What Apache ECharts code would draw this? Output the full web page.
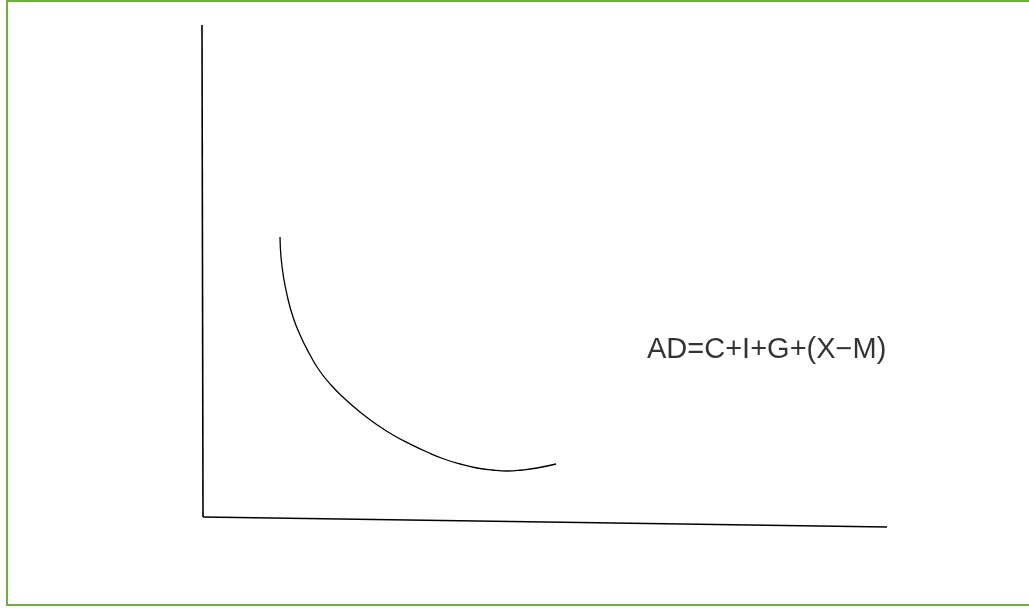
<!DOCTYPE html>
<html>
<head>
<meta charset="utf-8">
<script src="https://cdn.jsdelivr.net/npm/echarts@6/dist/echarts.min.js"></script>
<style>
html,body{margin:0;padding:0;background:#fff;}
#c{width:1029px;height:608px;}
</style>
</head>
<body>
<div id="c"></div>
<script>
// Diagram coordinates: origin at the corner of the axes, x to the right, y upward
var verticalAxisX = [-1, 0];
var verticalAxisY = [492, 0];
var horizontalAxisX = [0, 684];
var horizontalAxisY = [0, -10];
var curveX = [77, 78, 80.5, 84.5, 90, 97.5, 106, 116, 128, 142, 157, 173, 190, 207, 224, 241, 257, 274, 289, 304, 319, 334, 353];
var curveY = [280, 260, 240, 220, 200, 181, 164, 147, 132, 118, 105, 93, 82, 73, 65, 58, 53, 49, 47, 46, 47, 49, 53];
var labelText = ['AD=C+I+G+(X\u2212M)'];
var labelX = [444];
var labelY = [167];

function zip(xs, ys) { return xs.map(function (x, i) { return [x, ys[i]]; }); }

var chart = echarts.init(document.getElementById('c'), null, { renderer: 'canvas' });
chart.setOption({
  backgroundColor: '#ffffff',
  animation: false,
  grid: { left: 0, right: 0, top: 0, bottom: 0 },
  xAxis: { type: 'value', min: -203, max: 826, show: false },
  yAxis: { type: 'value', min: -91, max: 517, show: false },
  graphic: [{
    type: 'rect',
    shape: { x: 7, y: 1, width: 1030, height: 604 },
    style: { fill: 'none', stroke: '#70AD47', lineWidth: 2 },
    silent: true
  }],
  series: [
    {
      type: 'line', data: zip(verticalAxisX, verticalAxisY), symbol: 'none',
      lineStyle: { color: '#000', width: 1.6 }, silent: true
    },
    {
      type: 'line', data: zip(horizontalAxisX, horizontalAxisY), symbol: 'none',
      lineStyle: { color: '#000', width: 1.6 }, silent: true
    },
    {
      type: 'line', data: zip(curveX, curveY), symbol: 'none', smooth: 0.5,
      lineStyle: { color: '#000', width: 1.3 }, silent: true
    },
    {
      type: 'scatter', symbolSize: 0,
      data: labelX.map(function (x, i) { return { value: [x, labelY[i]], name: labelText[i] }; }),
      label: {
        show: true, position: 'right', distance: 0,
        formatter: function (p) { return p.name; },
        color: '#000', fontFamily: 'Liberation Sans, Arial, sans-serif', fontSize: 29
      },
      silent: true
    }
  ]
});
</script>
</body>
</html>
